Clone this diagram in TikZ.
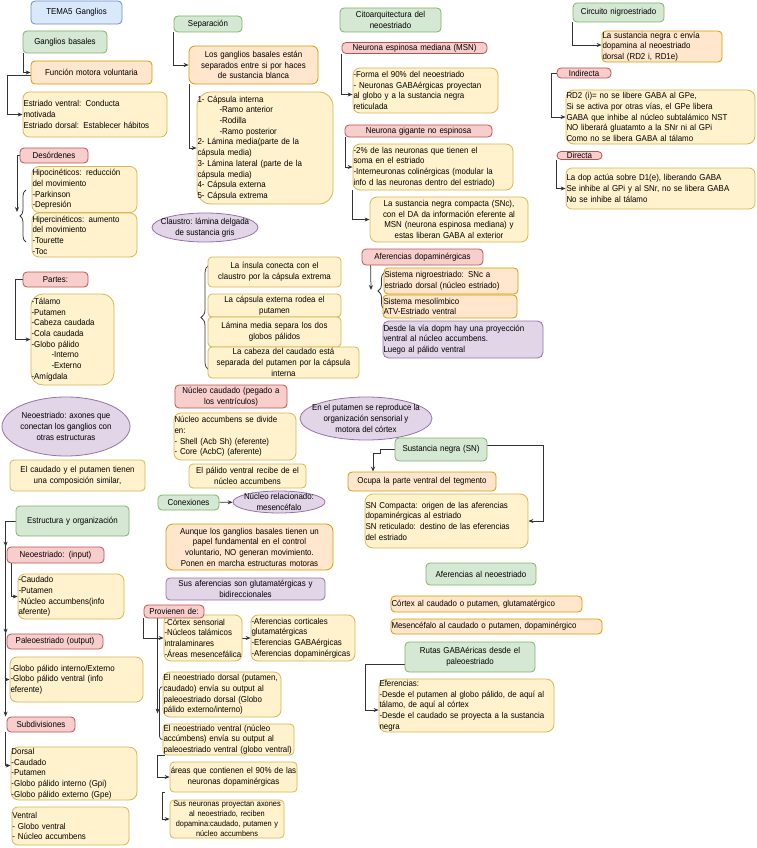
\documentclass[tikz,border=0pt]{standalone}
\usepackage{fontspec}
\setmainfont{Liberation Sans}[FakeStretch=0.92]
\usetikzlibrary{arrows.meta,shapes.geometric,decorations.pathreplacing,backgrounds}
\definecolor{grnfill}{HTML}{D5E8D4}\definecolor{grnline}{HTML}{82B366}
\definecolor{redfill}{HTML}{F8CECC}\definecolor{redline}{HTML}{B85450}
\definecolor{yelfill}{HTML}{FFF2CC}\definecolor{yelline}{HTML}{D6B656}
\definecolor{orgfill}{HTML}{FFE6CC}\definecolor{orgline}{HTML}{D79B00}
\definecolor{purfill}{HTML}{E1D5E7}\definecolor{purline}{HTML}{9673A6}
\definecolor{blufill}{HTML}{DAE8FC}\definecolor{bluline}{HTML}{6C8EBF}
\begin{document}
\begin{tikzpicture}[x=1pt,y=-1pt,
  font=\fontsize{8.6}{10.7}\selectfont,
  box/.style={line width=0.8pt, rounded corners=4pt, inner xsep=0.5pt, inner ysep=0.5pt},
  sz/.style 2 args={text width=#1pt, minimum height=#2pt},
  ell/.style 2 args={ellipse, minimum width=#1pt, minimum height=#2pt, inner xsep=-20pt, inner ysep=-8pt, align=center},
  blu/.style={box, draw=bluline, fill=blufill, align=center},
  grn/.style={box, draw=grnline, fill=grnfill, align=center},
  red/.style={box, draw=redline, fill=redfill, align=center},
  org/.style={box, draw=orgline, fill=orgfill, align=center},
  yel/.style={box, draw=yelline, fill=yelfill, align=left},
  pur/.style={box, draw=purline, fill=purfill, align=center},
  arr/.style={draw=black!80, line width=0.75pt, -{Stealth[length=5pt,width=4pt]}},
  ln/.style={draw=black!80, line width=0.75pt},
  brc/.style={draw=black!80, line width=0.75pt, decorate, decoration={brace, amplitude=#1}}]
  \useasboundingbox (0,0) rectangle (756,848);

  % left column
  \node[blu, sz={90}{23}] (tema) at (76.5,12.5) {TEMA5 Ganglios};
  \node[grn, sz={83}{22}] (gbas) at (65,42) {Ganglios basales};
  \node[org, sz={120}{23}] (func) at (91.5,72.5) {Función motora voluntaria};
  \node[yel, sz={143}{45}, rounded corners=6.5pt] (estr) at (95,114.5) {Estriado ventral: Conducta\\motivada\\Estriado dorsal: Establecer hábitos};
  \node[red, sz={67}{15}] (deso) at (54,155.5) {Desórdenes};
  \node[yel, sz={104}{46}, rounded corners=7pt] (hipo) at (84.5,189.5) {Hipocinéticos: reducción\\del movimiento\\-Parkinson\\-Depresión};
  \node[yel, sz={104}{44}, rounded corners=7pt] (hiper) at (84.5,235) {Hipercinéticos: aumento\\del movimiento\\-Tourette\\-Toc};
  \coordinate (dtip) at (17,212);
  \node[red, sz={64}{15}] (partes) at (55.5,279.5) {Partes:};
  \node[yel, sz={82}{91}, rounded corners=12pt] (plist) at (72.5,339.5) {-Tálamo\\-Putamen\\-Cabeza caudada\\-Cola caudada\\-Globo pálido\\\hspace*{20pt}-Interno\\\hspace*{20pt}-Externo\\-Amígdala};
  \node[pur, ell={128}{59}] (neoell) at (66,426.5) {Neoestriado: axones que\\conectan los ganglios con\\otras estructuras};
  \node[yel, sz={134}{31}, align=center] (comp) at (77.5,475.5) {El caudado y el putamen tienen\\una composición similar,};
  \node[grn, sz={112}{30}] (estorg) at (72.5,521) {Estructura y organización};
  \node[red, sz={96}{16}] (neoin) at (55.5,555) {Neoestriado: (input)};
  \node[yel, sz={105}{45}, rounded corners=7pt] (neolist) at (71,596.5) {-Caudado\\-Putamen\\-Núcleo accumbens(info\\aferente)};
  \node[red, sz={95}{15}] (paleo) at (55,641.5) {Paleoestriado (output)};
  \node[yel, sz={132}{45}, rounded corners=7pt] (palist) at (76.5,679.5) {-Globo pálido interno/Externo\\-Globo pálido ventral (info\\eferente)};
  \node[red, sz={67}{15}] (subd) at (41,724.5) {Subdivisiones};
  \node[yel, sz={125}{53}, rounded corners=8pt] (dorsal) at (74,773.5) {Dorsal\\-Caudado\\-Putamen\\-Globo pálido interno (Gpi)\\-Globo pálido externo (Gpe)};
  \node[yel, sz={116}{38}, rounded corners=6pt] (ventral) at (70.5,826) {Ventral\\- Globo ventral\\- Núcleo accumbens};

  % middle column
  \node[grn, sz={67}{16}] (sep) at (208,24) {Separación};
  \node[org, sz={128}{38}, rounded corners=6pt] (haces) at (253.5,65) {Los ganglios basales están\\separados entre si por haces\\de sustancia blanca};
  \node[yel, sz={135}{112}, rounded corners=14pt] (caps) at (265,148) {1- Cápsula interna\\\hspace*{22pt}-Ramo anterior\\\hspace*{22pt}-Rodilla\\\hspace*{22pt}-Ramo posterior\\2- Lámina media(parte de la\\cápsula media)\\3- Lámina lateral (parte de la\\cápsula media)\\4- Cápsula externa\\5- Cápsula extrema};
  \node[pur, ell={106}{29}] (claustro) at (205,227.5) {Claustro: lámina delgada\\de sustancia gris};
  \node[yel, sz={132}{30}, align=center] (insula) at (274.5,272) {La ínsula conecta con el\\claustro por la cápsula extrema};
  \node[yel, sz={132}{23}, align=center] (cext) at (274.5,305.5) {La cápsula externa rodea el\\putamen};
  \node[yel, sz={132}{30}, align=center] (lmed) at (274.5,332) {Lámina media separa los dos\\globos pálidos};
  \node[yel, sz={150}{31}, align=center] (cabeza) at (283.5,362.5) {La cabeza del caudado está\\separada del putamen por la cápsula\\interna};
  \node[red, sz={111}{23}] (ncaud) at (231,396.5) {Núcleo caudado (pegado a\\los ventrículos)};
  \node[yel, sz={121}{47}, rounded corners=7pt] (nacc) at (235,436.5) {Núcleo accumbens se divide\\en:\\- Shell (Acb Sh) (eferente)\\- Core (AcbC) (aferente)};
  \node[yel, sz={116}{24}, align=center] (pven) at (247.5,476) {El pálido ventral recibe de el\\núcleo accumbens};
  \node[grn, sz={60}{15}] (conex) at (188.5,502.5) {Conexiones};
  \node[pur, ell={92}{22}] (mesen) at (279,502) {Núcleo relacionado:\\mesencéfalo};
  \node[org, sz={166}{46}, rounded corners=7pt] (aunque) at (249.5,547) {Aunque los ganglios basales tienen un\\papel fundamental en el control\\voluntario, NO generan movimiento.\\Ponen en marcha estructuras motoras};
  \node[pur, sz={158}{22}] (sus) at (245.5,589) {Sus aferencias son glutamatérgicas y\\bidireccionales};
  \node[yel, sz={77}{46}, rounded corners=7pt] (provlist) at (203,638) {-Córtex sensorial\\-Núcleos talámicos\\intralaminares\\-Áreas mesencefálica};
  \node[red, sz={59}{13}] (prov) at (174,611.5) {Provienen de:};
  \node[yel, sz={103}{46}, rounded corners=7pt] (afer) at (303,638) {-Aferencias corticales\\glutamatérgicas\\-Eferencias GABAérgicas\\-Aferencias dopaminérgicas};
  \node[yel, sz={117}{45}, rounded corners=7pt] (ndors) at (222,694.5) {El neoestriado dorsal (putamen,\\caudado) envía su output al\\paleoestriado dorsal (Globo\\pálido externo/interno)};
  \node[yel, sz={130}{31}] (nvent) at (228.5,739.5) {El neoestriado ventral (núcleo\\accúmbens) envía su output al\\paleoestriado ventral (globo ventral)};
  \node[yel, sz={126}{30}, align=center] (areas) at (233.5,777) {áreas que contienen el 90\% de las\\neuronas dopaminérgicas};
  \node[yel, sz={113}{38}, align=center, font=\fontsize{8}{10}\selectfont] (susneu) at (227,819) {Sus neuronas proyectan axones\\al neoestriado, reciben\\dopamina:caudado, putamen y\\núcleo accumbens};

  % right-middle column
  \node[grn, sz={100}{24}] (cito) at (390.5,20) {Citoarquitectura del\\neoestriado};
  \node[red, sz={144}{11}] (msn) at (414.5,48) {Neurona espinosa mediana (MSN)};
  \node[yel, sz={144}{45}, rounded corners=7pt] (msnlist) at (425.5,90.5) {-Forma el 90\% del neoestriado\\- Neuronas GABAérgicas proyectan\\al globo y a la sustancia negra\\reticulada};
  \node[red, sz={146}{12}] (gig) at (418.5,131) {Neurona gigante no espinosa};
  \node[yel, sz={159}{46}, rounded corners=7pt] (giglist) at (433,167) {-2\% de las neuronas que tienen el\\soma en el estriado\\-Interneuronas colinérgicas (modular la\\info d las neuronas dentro del estriado)};
  \node[yel, sz={157}{45}, align=center, rounded corners=7pt] (snc) at (449,219.5) {La sustancia negra compacta (SNc),\\con el DA da información eferente al\\MSN (neurona espinosa mediana) y\\estas liberan GABA al exterior};
  \node[red, sz={120}{16}] (adop) at (422.5,257) {Aferencias dopaminérgicas};
  \coordinate (atip) at (371,290);
  \node[org, sz={133}{26}, align=left] (nigro) at (451,281) {Sistema nigroestriado: SNc a\\estriado dorsal (núcleo estriado)};
  \node[org, sz={133}{23}, align=left] (meso) at (450,306.5) {Sistema mesolímbico\\ATV-Estriado ventral};
  \node[pur, sz={159}{37}, align=left, rounded corners=5.5pt] (desde) at (463,339.5) {Desde la vía dopm hay una proyección\\ventral al núcleo accumbens.\\Luego al pálido ventral};
  \node[pur, ell={132}{43}] (putell) at (366,418.5) {En el putamen se reproduce la\\organización sensorial y\\motora del córtex};
  \node[grn, sz={91}{23}] (sn) at (441,449.5) {Sustancia negra (SN)};
  \node[org, sz={147}{19}] (ocupa) at (422,481.5) {Ocupa la parte ventral del tegmento};
  \node[yel, sz={162}{54}, rounded corners=8pt] (sncomp) at (446.5,521) {SN Compacta: origen de las aferencias\\dopaminérgicas al estriado\\SN reticulado: destino de las eferencias\\del estriado};
  \node[grn, sz={109}{22}] (afneo) at (481,574) {Aferencias al neoestriado};
  \node[org, sz={190}{16}, align=left] (cortex) at (486.5,604) {Córtex al caudado o putamen, glutamatérgico};
  \node[org, sz={210}{15}, align=left] (mesenc) at (496.5,626.5) {Mesencéfalo al caudado o putamen, dopaminérgico};
  \node[grn, sz={129}{30}] (rutas) at (470,657) {Rutas GABAéricas desde el\\paleoestriado};
  \node[yel, sz={174}{53}, rounded corners=8pt] (efer) at (466.5,705.5) {Eferencias:\\-Desde el putamen al globo pálido, de aquí al\\tálamo, de aquí al córtex\\-Desde el caudado se proyecta a la sustancia\\negra};

  % right column
  \node[grn, sz={90}{19}] (circ) at (618.5,12.5) {Circuito nigroestriado};
  \node[org, sz={119}{31}, align=left] (snenv) at (662,46.5) {La sustancia negra c envía\\dopamina al neoestriado\\dorsal (RD2 i, RD1e)};
  \node[red, sz={53}{10}] (indi) at (584,73) {Indirecta};
  \node[yel, sz={188}{54}, rounded corners=8pt] (indbox) at (660.5,117) {RD2 (i)= no se libere GABA al GPe,\\Si se activa por otras vías, el GPe libera\\GABA que inhibe al núcleo subtalámico NST\\NO liberará gluatamto a la SNr ni al GPi\\Como no se libera GABA al tálamo};
  \node[red, sz={44}{8}, inner ysep=0pt] (dire) at (579.5,155.5) {Directa};
  \node[yel, sz={188}{41}, rounded corners=6pt] (dirbox) at (660.5,188.5) {La dop actúa sobre D1(e), liberando GABA\\Se inhibe al GPi y al SNr, no se libera GABA\\No se inhibe al tálamo};

  \begin{scope}[on background layer]
    \draw[arr] ([xshift=1pt]gbas.south west) |- (func.west);
    \draw[arr] ([yshift=-3pt]func.west) -- ++(-23,0) |- (estr.west);
    \draw[arr] (deso.west) -| (dtip);
    \draw[brc=6pt] (26,242) -- (26,190);
    \draw[arr] (partes.west) -- ++(-7,0) |- (plist.west);
    \draw[arr] (estorg.west) -| ([xshift=-1pt]neoin.north west);
    \draw[arr] (estorg.west) -| ([xshift=-1pt]paleo.north west);
    \draw[arr] (estorg.west) -| ([xshift=-1pt]subd.north west);
    \draw[arr] ([xshift=5pt]neoin.south west) |- (neolist.west);
    \draw[arr] ([xshift=-1pt]paleo.south west) |- (palist.west);
    \draw[arr] ([xshift=-1pt]subd.south west) |- ([yshift=8pt]dorsal.west);

    \draw[arr] (sep.south west) |- (haces.west);
    \draw[arr] ([xshift=1pt]haces.south west) |- (caps.west);
    \draw[brc=8pt] (209,370) -- (209,265);
    \draw[arr] (conex) -- (mesen);
    \draw[arr] (prov.south west) |- (provlist.west);
    \draw[arr] (provlist) -- (afer);
    \draw[arr] ([xshift=14pt]prov.south west) -- ([xshift=-5pt,yshift=4pt]ndors.south west);
    \draw[ln, rounded corners=3pt] ([yshift=-15pt]ndors.north west) -- ++(-3,0) |- ([yshift=-16pt]nvent.north west);
    \draw[arr] ([xshift=2pt]nvent.south west) -- ++(-7,0) |- (areas.west);
    \draw[arr] ([xshift=-5pt]areas.south west) -- ++(-2,0) |- (susneu.west);

    \draw[arr] (msn.south west) |- ([yshift=-4pt]msnlist.west);
    \draw[arr] ([xshift=1pt]gig.south west) |- (giglist.west);
    \draw[arr] (giglist.south west) |- (snc.west);
    \draw[arr] ([xshift=9pt]adop.south west) -- (atip);
    \draw[brc=7pt] (385,310) -- (385,272);
    \draw[arr] (sn.west) -- ++(-14,0) -- ++(0,3.5) -| ([xshift=-49pt]ocupa.north);
    \draw[arr] ([yshift=4pt]sn.east) -- ++(56,0) |- (sncomp.east);
    \draw[arr] ([yshift=-7pt]rutas.west) -- ++(-39,0) |- ([yshift=-4.5pt]efer.west);

    \draw[arr] (circ.south west) |- ([yshift=1.5pt]snenv.west);
    \draw[arr] (indi.west) -- ++(-5,0) |- (indbox.west);
    \draw[arr] (dire.south west) |- (dirbox.west);
  \end{scope}
\end{tikzpicture}
\end{document}
